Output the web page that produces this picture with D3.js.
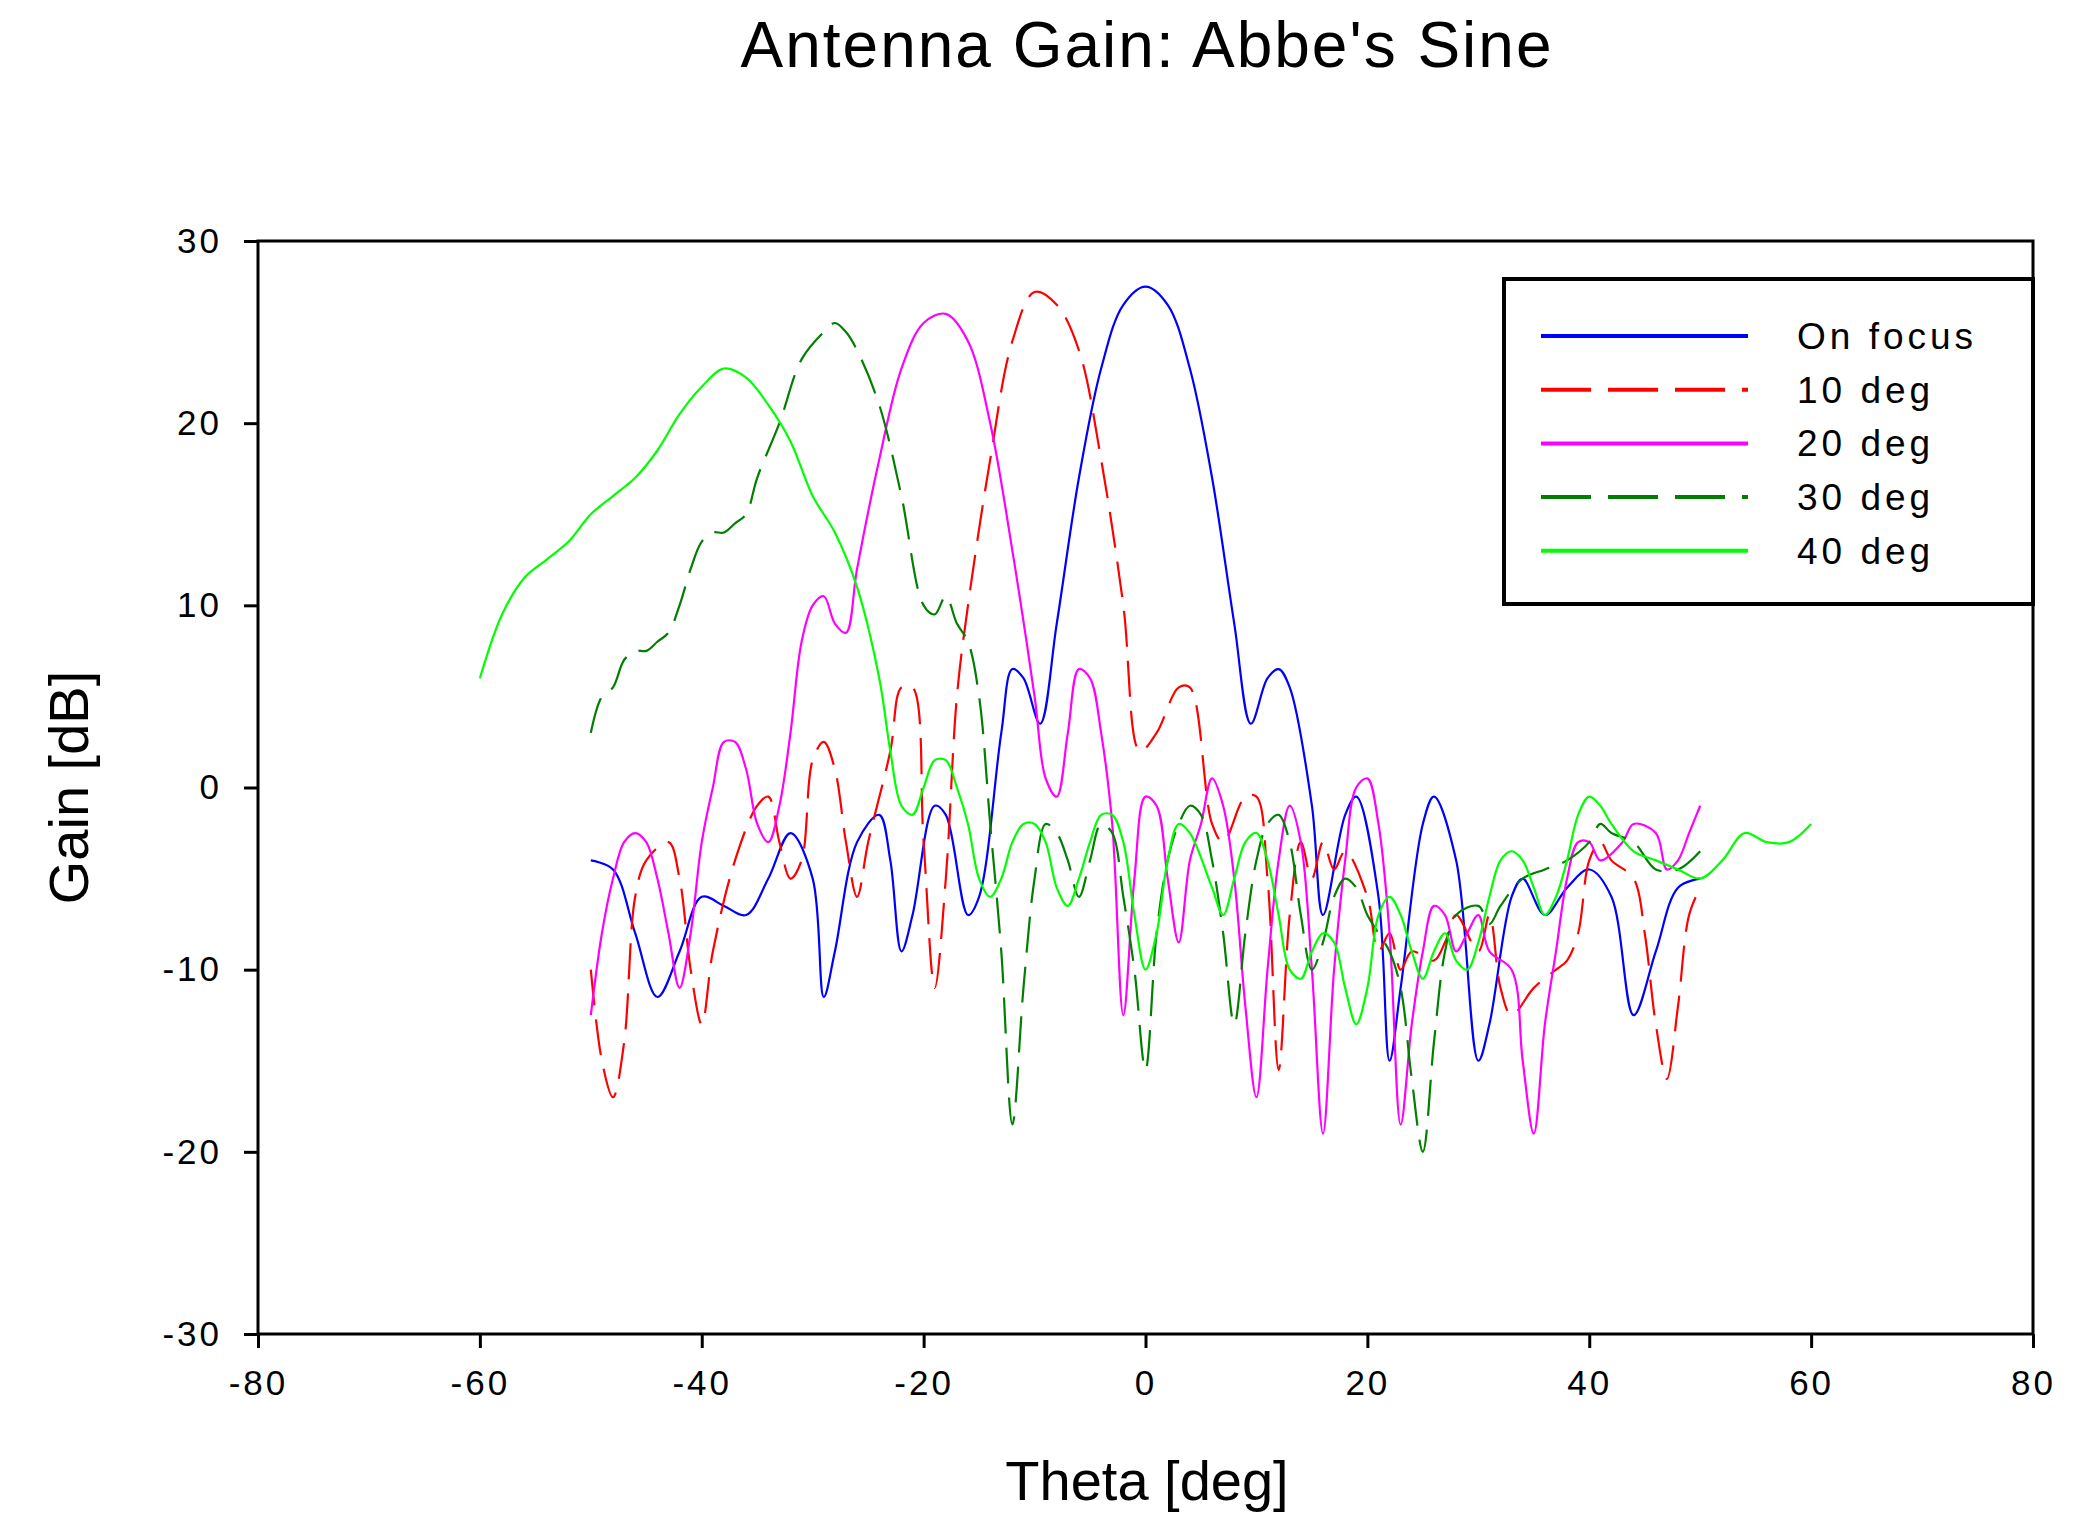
<!DOCTYPE html>
<html><head><meta charset="utf-8">
<script src="https://cdn.jsdelivr.net/npm/d3@7"></script>
<style>body{margin:0;background:#fff}svg{font-family:"Liberation Sans",Arial,sans-serif}</style>
</head><body><svg id="c" width="2081" height="1540"></svg>
<script>
// [theta, gain] pairs
var onFocus = [[-50,-4],[-48,-4.5],[-46,-8],[-44,-11.5],[-42,-9],[-40,-6],[-38,-6.5],[-36,-7],[-34,-5],[-32,-2.5],[-30,-5],[-29,-11.5],[-28,-9],[-26,-3],[-24,-1.5],[-23,-4],[-22,-9],[-21,-7],[-19,-1],[-18,-1.5],[-16,-7],[-15,-6],[-13,3],[-12,6.5],[-11,6],[-9.5,3.5],[-8,9],[-6,17],[-4,23],[-2,26.5],[0,27.5],[2,26.5],[4,23],[6,17],[8,9],[9.5,3.5],[11,6],[12,6.5],[13,5.5],[15,-1],[16,-7],[18,-1.5],[19,-0.5],[21,-6],[22,-15],[23,-11],[25,-2],[26,-0.5],[28,-4],[30,-15],[31,-13],[33,-6],[34,-5],[36,-7],[38,-5.5],[40,-4.5],[42,-6],[44,-12.5],[46,-9],[48,-5.5],[50,-5]];
var deg10 = [[-50,-10],[-49,-15],[-48,-17],[-47,-14],[-46,-6],[-45,-4],[-43,-3],[-42,-5],[-41,-10],[-40,-13],[-39,-9],[-37,-4],[-35,-1],[-34,-0.5],[-33,-3],[-32,-5],[-31,-4],[-30,1.5],[-29,2.5],[-28,1],[-27,-3],[-26,-6],[-25,-3],[-23,2],[-22,5.5],[-21,5.5],[-20,-3],[-19,-11],[-18,-5],[-17,5],[-16,10],[-14,18],[-12,24.5],[-10,27.2],[-8,26.5],[-6,24],[-4,18],[-2,10],[-0.5,2],[1,3],[3,5.5],[4,5.5],[6,-2],[7,-3],[9,-0.5],[10,-0.5],[11,-5],[12,-15.5],[13,-7],[14,-3],[15,-5],[16,-3],[17,-4.5],[18,-3.5],[20,-6],[21,-9],[22,-8],[23,-10],[24,-9],[26,-9.5],[27,-8.5],[28,-7],[30,-9],[31,-7],[32,-11],[33,-12.5],[35,-11],[37,-10],[38,-9.5],[39,-8],[40,-4],[41,-3],[42,-4],[44,-5],[45,-8],[46,-13],[47,-16],[48,-12],[49,-7],[50,-5.5]];
var deg20 = [[-50,-12.5],[-49,-8],[-48,-5],[-47,-3],[-46,-2.5],[-45,-3],[-44,-5],[-43,-8],[-42,-11],[-41,-8],[-40,-3],[-39,0],[-38,2.5],[-37,2.5],[-36,1],[-35,-2],[-34,-3],[-33,-1],[-32,3],[-31,8],[-30,10],[-29,10.5],[-28,9],[-27,8.5],[-26,12],[-24,18],[-22,23],[-20,25.5],[-18,26],[-16,24.5],[-14,20],[-12,13],[-10,5],[-9,0.5],[-8,-0.5],[-7,3],[-6,6.5],[-5,6],[-4,3],[-3,-2],[-2,-12.5],[-1,-5],[0,-0.5],[1,-1],[2,-5],[3,-8.5],[4,-4],[5,-2],[6,0.5],[7,-1],[8,-5],[9,-12],[10,-17],[11,-10],[12,-4],[13,-1],[14,-3],[15,-10],[16,-19],[17,-10],[18,-4],[19,0],[20,0.5],[21,-2],[22,-8],[23,-18.5],[24,-13],[25,-9],[26,-6.5],[27,-7],[28,-9],[29,-8],[30,-7],[31,-9],[33,-10],[34,-15],[35,-19],[36,-13],[37,-9],[38,-5],[39,-3],[40,-3],[41,-4],[43,-3],[44,-2],[46,-2.5],[47,-4.5],[48,-4],[49,-2.5],[50,-1]];
var deg30 = [[-50,3],[-49,5],[-48,5.5],[-47,7],[-46,7.5],[-45,7.5],[-44,8],[-43,8.5],[-42,10],[-41,12],[-40,13.5],[-39,14],[-38,14],[-37,14.5],[-36,15],[-35,17],[-33,20],[-31,23.5],[-29,25],[-28,25.5],[-27,25],[-26,24],[-24,21],[-22,16],[-20,10],[-19,9.5],[-18,10.5],[-17,9],[-16,8],[-15,5],[-14,-2],[-13,-9],[-12,-18.5],[-11,-11],[-10,-5],[-9,-2],[-8,-2.5],[-7,-4],[-6,-6],[-5,-4],[-4,-2],[-3,-2.5],[-2,-6],[-1,-10],[0,-15.5],[1,-8],[2,-4],[3,-2],[4,-1],[5,-1.5],[6,-4],[7,-8],[8,-13],[9,-8],[10,-4],[11,-2],[12,-1.5],[13,-3],[14,-7],[15,-10],[16,-8.5],[17,-6],[18,-5],[19,-5.5],[20,-7],[21,-8],[22,-9],[23,-11],[24,-16],[25,-20],[26,-14],[27,-9],[28,-7],[30,-6.5],[31,-7.5],[32,-6.5],[34,-5],[36,-4.5],[38,-4],[40,-3],[41,-2],[42,-2.5],[44,-3],[46,-4.5],[48,-4.5],[50,-3.5]];
var deg40 = [[-60,6],[-58,9.5],[-56,11.5],[-54,12.5],[-52,13.5],[-50,15],[-48,16],[-46,17],[-44,18.5],[-42,20.5],[-40,22],[-38,23],[-36,22.5],[-34,21],[-32,19],[-30,16],[-28,14],[-26,11],[-24,6],[-23,2],[-22,-1],[-21,-1.5],[-20,0],[-19,1.5],[-18,1.5],[-17,0],[-16,-2],[-15,-5],[-14,-6],[-13,-5],[-12,-3],[-11,-2],[-10,-2],[-9,-3],[-8,-5.5],[-7,-6.5],[-6,-5],[-5,-3],[-4,-1.5],[-3,-1.5],[-2,-3],[-1,-7],[0,-10],[1,-8],[2,-4],[3,-2],[4,-2.5],[6,-5.5],[7,-7],[8,-5],[9,-3],[10,-2.5],[11,-4],[12,-7],[13,-10],[14,-10.5],[15,-9],[16,-8],[17,-8.5],[18,-11],[19,-13],[20,-11],[21,-7],[22,-6],[23,-7],[24,-9],[25,-10.5],[26,-9],[27,-8],[28,-9.5],[29,-10],[30,-8.5],[31,-6],[32,-4],[33,-3.5],[34,-4],[35,-5.5],[36,-7],[37,-6],[38,-4],[39,-1.5],[40,-0.5],[41,-1],[42,-2],[44,-3.5],[46,-4],[48,-4.5],[50,-5],[52,-4],[54,-2.5],[56,-3],[58,-3],[60,-2]];
var seriesNames = ["On focus","10 deg","20 deg","30 deg","40 deg"];
var seriesData = [onFocus, deg10, deg20, deg30, deg40];
var colors = ["#0000ff","#ff0000","#ff00ff","#007f00","#00ff00"];
var dashes = [null,"36,14",null,"36,14",null];
var xTicks = [-80,-60,-40,-20,0,20,40,60,80];
var yTicks = [-30,-20,-10,0,10,20,30];

var svg = d3.select("#c");
var L=258, R=2033, T=241, B=1334;
var x = d3.scaleLinear().domain([-80,80]).range([L,R]);
var y = d3.scaleLinear().domain([-30,30]).range([B,T]);

var gx = svg.append("g").attr("transform","translate(0,"+B+")")
  .call(d3.axisBottom(x).tickValues(xTicks).tickSize(14).tickPadding(22).tickFormat(function(d){return String(d);}));
var gy = svg.append("g").attr("transform","translate("+L+",0)")
  .call(d3.axisLeft(y).tickValues(yTicks).tickSize(14).tickPadding(22).tickFormat(function(d){return String(d);}));
[gx,gy].forEach(function(g){
  g.select(".domain").remove();
  g.selectAll("line").attr("stroke","#000").attr("stroke-width",3);
  g.selectAll("text").attr("font-size",35).attr("fill","#000").style("letter-spacing","3px");
});
svg.append("rect").attr("x",L).attr("y",T).attr("width",R-L).attr("height",B-T)
  .attr("fill","none").attr("stroke","#000").attr("stroke-width",3);

var line = d3.line().curve(d3.curveCatmullRom)
  .x(function(d){return x(d[0]);}).y(function(d){return y(d[1]);});
seriesData.forEach(function(s,i){
  svg.append("path").datum(s).attr("d",line).attr("fill","none")
    .attr("stroke",colors[i]).attr("stroke-width",2.2)
    .attr("stroke-dasharray",dashes[i]);
});

// legend
var lg = svg.append("g");
lg.append("rect").attr("x",1504).attr("y",279).attr("width",R-1504).attr("height",325)
  .attr("fill","#fff").attr("stroke","#000").attr("stroke-width",4);
seriesNames.forEach(function(n,i){
  var yy = 336 + i*53.7;
  lg.append("line").attr("x1",1541).attr("x2",1748).attr("y1",yy).attr("y2",yy)
    .attr("stroke",colors[i]).attr("stroke-width",4).attr("stroke-dasharray",dashes[i]?"50,17":null);
  lg.append("text").attr("x",1797).attr("y",yy+13).attr("font-size",37)
    .style("letter-spacing","4px").text(n);
});

svg.append("text").attr("x",1147).attr("y",67).attr("text-anchor","middle")
  .attr("font-size",64).style("letter-spacing","2px").text("Antenna Gain: Abbe's Sine");
svg.append("text").attr("x",1147).attr("y",1500).attr("text-anchor","middle")
  .attr("font-size",56).text("Theta [deg]");
svg.append("text").attr("transform","translate(88,"+((T+B)/2)+") rotate(-90)")
  .attr("text-anchor","middle").attr("font-size",56).text("Gain [dB]");
</script></body></html>
